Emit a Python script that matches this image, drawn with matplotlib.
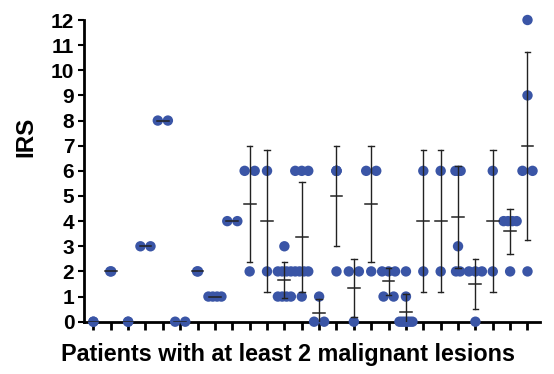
import numpy as np
import matplotlib
matplotlib.use("Agg")
import matplotlib.pyplot as plt

# ---- data: IRS values per patient (26 patients) ----
g00 = [0, 0]
g01 = [2, 2]
g02 = [0, 0]
g03 = [3, 3]
g04 = [8, 8]
g05 = [0, 0]
g06 = [2, 2]
g07 = [1, 1, 1, 1]
g08 = [4, 4]
g09 = [6, 6, 2]
g10 = [6, 2]
g11 = [3, 2, 2, 2, 2, 1, 1, 1, 1]
g12 = [6, 6, 6, 2, 2, 2, 2, 1]
g13 = [1, 0, 0]
g14 = [6, 6, 6, 2]
g15 = [2, 2, 0]
g16 = [6, 6, 2]
g17 = [2, 2, 2, 1, 1]
g18 = [2, 1, 0, 0, 0, 0, 0, 0]
g19 = [6, 2]
g20 = [6, 2]
g21 = [6, 6, 6, 3, 2, 2]
g22 = [2, 2, 2, 0]
g23 = [6, 2]
g24 = [4, 4, 4, 4, 2]
g25 = [12, 9, 6, 6, 2]
groups = [g00, g01, g02, g03, g04, g05, g06, g07, g08, g09, g10, g11, g12,
          g13, g14, g15, g16, g17, g18, g19, g20, g21, g22, g23, g24, g25]

y_ticks = list(range(0, 13))
y_label = "IRS"
x_label = "Patients with at least 2 malignant lesions"

# ---- style ----
spread = [0, 0.1, 0, 1, 1, 1, 0.1, 1, 1, 1, 1, 1, 1,
          1, 0, 1, 1, 1, 1, 1, 1, 0.4, 1, 1, 1, 1]
dot_color = "#3A55A6"
line_color = "#222222"

W, H = 554, 374
fig = plt.figure(figsize=(W / 100, H / 100), dpi=100)
left, right = 84 / W, 540 / W
bottom, top = 1 - 321.7 / H, 1 - 20 / H
ax = fig.add_axes([left, bottom, right - left, top - bottom])

font = "Liberation Sans"

for i, vals in enumerate(groups):
    vals = np.array(vals, dtype=float)
    xs = np.zeros_like(vals)
    for v in np.unique(vals):
        idx = np.where(vals == v)[0]
        n = len(idx)
        if n > 1:
            w = spread[i] * min(0.58 * (n - 1), 0.75)
            xs[idx] = np.linspace(-w / 2, w / 2, n)
    ax.scatter(i + xs, vals, s=56, color=dot_color, edgecolors="none",
               zorder=3, clip_on=False)
    m = vals.mean()
    sd = vals.std(ddof=1) if len(vals) > 1 else 0.0
    ax.plot([i - 0.34, i + 0.34], [m, m], color=line_color, lw=1.1, zorder=4)
    if sd > 0:
        ax.plot([i, i], [m - sd, m + sd], color=line_color, lw=1.0, zorder=4)
        for yy in (m - sd, m + sd):
            ax.plot([i - 0.16, i + 0.16], [yy, yy], color=line_color,
                    lw=1.0, zorder=4)

ax.set_xlim(-0.54, 25.72)
ax.set_ylim(0, 12)
ax.set_xticks(range(len(groups)))
ax.set_xticklabels([])
ax.set_yticks(y_ticks)
ax.set_yticklabels([str(t) for t in y_ticks], fontfamily=font,
                   fontweight="bold", fontsize=15)
for s in ("top", "right"):
    ax.spines[s].set_visible(False)
for s in ("left", "bottom"):
    ax.spines[s].set_linewidth(2.0)
ax.tick_params(axis="x", length=6, width=2.0, direction="out")
ax.tick_params(axis="y", length=4, width=1.5, direction="out", pad=3)

fig.text(288.3 / W, 1 - 355 / H, x_label, ha="center", va="center",
         fontfamily=font, fontweight="bold", fontsize=16.8)
fig.text(25.7 / W, 1 - 137 / H, y_label, ha="center", va="center",
         rotation=90, fontfamily=font, fontweight="bold", fontsize=17.5)

fig.savefig("out.png", dpi=100)
